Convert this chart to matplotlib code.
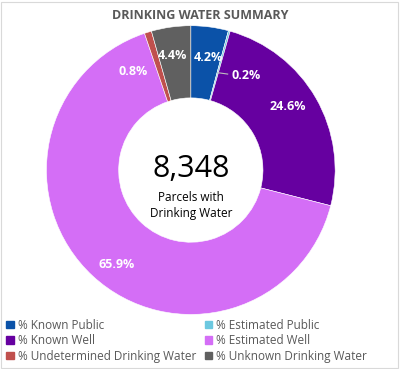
import numpy as np
import matplotlib.pyplot as plt
from matplotlib.patches import Rectangle

categories = [
    "% Known Public",
    "% Estimated Public",
    "% Known Well",
    "% Estimated Well",
    "% Undetermined Drinking Water",
    "% Unknown Drinking Water",
]
shares = [4.2, 0.2, 24.6, 65.9, 0.8, 4.4]
colors = ["#0B52A8", "#6CC8E0", "#6600A0", "#D46EF6", "#C0504D", "#606060"]
total_parcels = 8348

# label placement (angle shift in degrees, radius as fraction of outer radius)
label_tweaks = [(1.5, 0.79), (15, 0.76), (-3.4, 0.80), (-4.5, 0.83), (-13, 0.79), (-1, 0.80)]

fig = plt.figure(figsize=(4.0, 3.69), dpi=100)
fig.patch.set_facecolor("white")
fig.add_artist(Rectangle((0.003, 0.003), 0.992, 0.992, transform=fig.transFigure,
                         fill=False, edgecolor="#D9D9D9", linewidth=0.8))

fig.text(0.5, 0.958, "DRINKING WATER SUMMARY", ha="center", va="center",
         fontsize=9, fontweight="bold", color="#595959", family="Open Sans")

R = 1.0
ax = fig.add_axes([0.1125, 0.1436, 0.729, 0.791])
wedges, _ = ax.pie(shares, colors=colors, startangle=90, counterclock=False,
                   radius=R, wedgeprops=dict(width=0.5 * R, edgecolor="white", linewidth=0.4))
ax.set_aspect("equal", adjustable="box")
ax.set_xlim(-1.01, 1.01)
ax.set_ylim(-1.01, 1.01)
ax.axis("off")

cum = np.cumsum([0] + shares[:-1])
total = sum(shares)
for i, (v, (dtheta, rr)) in enumerate(zip(shares, label_tweaks)):
    mid = (cum[i] + v / 2) / total * 360 + dtheta
    th = np.deg2rad(90 - mid)
    x, y = rr * np.cos(th), rr * np.sin(th)
    ax.text(x, y, f"{v:.1f}%", ha="center", va="center", fontsize=9,
            fontweight="bold", color="white", family="Open Sans")
    if i == 1:
        th0 = np.deg2rad(90 - (cum[i] + v / 2) / total * 360)
        ax.plot([0.70 * np.cos(th0), x - 0.13],
                [0.70 * np.sin(th0), y + 0.01],
                color="#BFBFBF", linewidth=0.8)

ax.text(0, 0.01, f"{total_parcels:,}", ha="center", va="center", fontsize=22,
        color="black", family="Open Sans")
ax.text(0, -0.245, "Parcels with\nDrinking Water", ha="center", va="center",
        fontsize=8.5, color="black", family="Open Sans", linespacing=1.35)

handles = [Rectangle((0, 0), 1, 1, color=c) for c in colors]
order = [0, 2, 4, 1, 3, 5]
fig.legend([handles[i] for i in order], [categories[i] for i in order],
           ncol=2, loc="lower left", bbox_to_anchor=(0.0, 0.0), frameon=False,
           handlelength=0.6, handleheight=0.6, handletextpad=0.35,
           columnspacing=0.75, labelspacing=0.2, borderaxespad=0.15,
           labelcolor="#595959", prop={"family": "Open Sans", "size": 8.5})

fig.savefig("out.png", dpi=100)
